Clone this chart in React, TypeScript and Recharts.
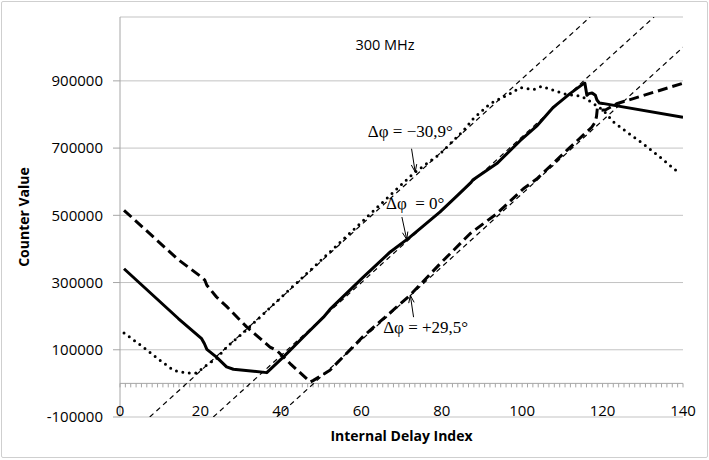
import React from 'react';
import { LineChart, Line, XAxis, YAxis, CartesianGrid, ReferenceLine, ReferenceDot } from 'recharts';

// ---- data ----
const zeroIndex = [1, 14.5, 20.3, 21.0, 21.6, 24, 26.5, 28.2, 36.5, 40.6, 45.6, 50.6, 52.2, 60.5, 67.2, 72.1, 79.6, 84, 87.3, 87.8, 93.7, 99.5, 103.6, 107.8, 111.9, 115.2, 115.6, 116.1, 116.6, 117.4, 118.2, 118.6, 119.2, 120, 140];
const zeroCount = [341000, 193000, 133000, 118000, 101000, 78000, 49000, 42000, 32000, 78000, 138000, 197000, 220000, 316000, 391000, 435000, 510000, 560000, 598000, 606000, 654000, 722000, 765000, 822000, 862000, 891000, 893000, 857000, 862000, 864000, 857000, 843000, 834000, 833000, 792000];

const plusIndex = [1, 14.5, 20.3, 21.1, 21.6, 24, 26.5, 31.5, 37.3, 39, 42.3, 47.3, 48.1, 52.2, 60.5, 72.1, 79.6, 87.1, 93.7, 100.3, 103.6, 111.1, 117.3, 118.2, 118.5, 118.7, 119.5, 120.8, 123.5, 140];
const plusCount = [515000, 368000, 316000, 307000, 292000, 257000, 229000, 168000, 108000, 98000, 59000, 4000, 9000, 39000, 140000, 262000, 356000, 446000, 505000, 579000, 608000, 693000, 762000, 778000, 795000, 818000, 812000, 814000, 832000, 893000];

const minusIndex = [1, 5.8, 9.9, 13.3, 16.6, 19.1, 21.5, 24, 26.5, 30.7, 40.6, 51.4, 66.3, 72.9, 79.6, 85.4, 87.8, 92, 97, 99.5, 102.8, 104.9, 107.8, 110.3, 112.9, 114.8, 116.5, 118.3, 120.2, 122.7, 126, 130.1, 134.3, 138.8];
const minusCount = [150000, 108000, 69000, 39000, 31000, 31000, 54000, 74000, 108000, 151000, 262000, 382000, 550000, 624000, 683000, 752000, 787000, 832000, 862000, 880000, 874000, 884000, 872000, 862000, 857000, 854000, 842000, 828000, 812000, 778000, 748000, 713000, 673000, 628000];

// thin dashed reference lines (start / end)
const refAIndex = [7.4, 116.9];
const refACount = [-100000, 1090000];
const refBIndex = [23.2, 132.8];
const refBCount = [-100000, 1090000];
const refCIndex = [39.0, 140];
const refCCount = [-100000, 1000000];

const xTicks = [0, 20, 40, 60, 80, 100, 120, 140];
const yTicks = [-100000, 100000, 300000, 500000, 700000, 900000];
const xDomain = [0, 140];
const yDomain = [-100000, 1090000];
const minorSteps = 105;

const title = '300 MHz';
const xLabel = 'Internal Delay Index';
const yLabel = 'Counter Value';
const noteMinus = 'Δφ = −30,9°';
const noteZero = 'Δφ\u00A0 = 0°';
const notePlus = 'Δφ = +29,5°';

const toPoints = (xs: number[], ys: number[]) => xs.map((x, i) => ({ x, y: ys[i] }));

const SANS = '"Open Sans", "Noto Sans", sans-serif';
const SERIF = '"Liberation Serif", "DejaVu Serif", serif';
const AXIS = '#a6a6a6';
const GRID = '#c3c3c3';

function ZeroAxis(props: any) {
  const { x1, y1, x2 } = props;
  const ticks = [];
  for (let k = 0; k <= minorSteps; k++) {
    const x = x1 + ((x2 - x1) * k) / minorSteps;
    ticks.push(<line key={k} x1={x} y1={y1} x2={x} y2={y1 + 4} stroke={AXIS} strokeWidth={1} />);
  }
  return (
    <g>
      <line x1={x1} y1={y1} x2={x2} y2={y1} stroke={AXIS} strokeWidth={1} />
      {ticks}
    </g>
  );
}

function Arrow(props: any) {
  const { x1, y1, x2, y2 } = props;
  const ang = Math.atan2(y2 - y1, x2 - x1);
  const len = 8;
  const spread = 0.35;
  const ax = x2 - len * Math.cos(ang - spread);
  const ay = y2 - len * Math.sin(ang - spread);
  const bx = x2 - len * Math.cos(ang + spread);
  const by = y2 - len * Math.sin(ang + spread);
  return (
    <g stroke="#000" strokeWidth={1} fill="none">
      <line x1={x1} y1={y1} x2={x2} y2={y2} />
      <polyline points={`${ax},${ay} ${x2},${y2} ${bx},${by}`} />
    </g>
  );
}

const textShape = (text: string, family: string, size: number) => (p: any) => (
  <text x={p.cx} y={p.cy} textAnchor="middle" dominantBaseline="central" fontFamily={family} fontSize={size} fill="#000">
    {text}
  </text>
);

const XTick = (props: any) => {
  const { x, y, payload } = props;
  return (
    <text x={x} y={y - 1} textAnchor="middle" fontFamily={SANS} fontSize={15} fill="#000">
      {payload.value}
    </text>
  );
};

export default function App() {
  const zeroData = toPoints(zeroIndex, zeroCount);
  const plusData = toPoints(plusIndex, plusCount);
  const minusData = toPoints(minusIndex, minusCount);
  const refA = toPoints(refAIndex, refACount);
  const refB = toPoints(refBIndex, refBCount);
  const refC = toPoints(refCIndex, refCCount);

  return (
    <div style={{ position: 'absolute', left: 0, top: 0, width: 709, height: 460, background: '#fff' }}>
      <LineChart width={709} height={460} margin={{ top: 17, right: 26, bottom: 0, left: 0 }}>
        <CartesianGrid vertical={false} stroke={GRID} strokeWidth={1} />
        <XAxis
          type="number"
          dataKey="x"
          domain={xDomain}
          ticks={xTicks}
          interval={0}
          allowDataOverflow
          height={43}
          axisLine={false}
          tickLine={false}
          tickSize={0}
          tickMargin={0}
          tick={<XTick />}
          label={{ value: xLabel, position: 'insideBottom', offset: 19, fontSize: 14, fontWeight: 700, fill: '#000', fontFamily: SANS }}
        />
        <YAxis
          type="number"
          dataKey="y"
          domain={yDomain}
          ticks={yTicks}
          interval={0}
          allowDataOverflow
          width={120}
          stroke={AXIS}
          tickSize={7}
          tickMargin={10}
          tick={{ fill: '#000', fontSize: 15, fontFamily: SANS }}
          label={{ value: yLabel, angle: -90, position: 'insideLeft', offset: 24, fontSize: 14, fontWeight: 700, fill: '#000', fontFamily: SANS, style: { textAnchor: 'middle' } }}
        />
        <ReferenceLine y={0} shape={ZeroAxis} ifOverflow="visible" />

        <Line data={refA} dataKey="y" type="linear" stroke="#000" strokeWidth={1.2} strokeDasharray="5 4" dot={false} activeDot={false} isAnimationActive={false} />
        <Line data={refB} dataKey="y" type="linear" stroke="#000" strokeWidth={1.2} strokeDasharray="5 4" dot={false} activeDot={false} isAnimationActive={false} />
        <Line data={refC} dataKey="y" type="linear" stroke="#000" strokeWidth={1.2} strokeDasharray="5 4" dot={false} activeDot={false} isAnimationActive={false} />

        <Line data={minusData} dataKey="y" type="linear" stroke="#000" strokeWidth={3} strokeDasharray="0 6.5" strokeLinecap="round" dot={false} activeDot={false} isAnimationActive={false} />
        <Line data={plusData} dataKey="y" type="linear" stroke="#000" strokeWidth={3} strokeDasharray="10 5" strokeLinejoin="round" dot={false} activeDot={false} isAnimationActive={false} />
        <Line data={zeroData} dataKey="y" type="linear" stroke="#000" strokeWidth={3} strokeLinejoin="round" dot={false} activeDot={false} isAnimationActive={false} />

        <ReferenceLine segment={[{ x: 72.5, y: 698000 }, { x: 73.4, y: 629000 }]} shape={Arrow} ifOverflow="visible" />
        <ReferenceLine segment={[{ x: 70.1, y: 495000 }, { x: 71.3, y: 428000 }]} shape={Arrow} ifOverflow="visible" />
        <ReferenceLine segment={[{ x: 73.0, y: 197000 }, { x: 72.2, y: 262000 }]} shape={Arrow} ifOverflow="visible" />

        <ReferenceDot x={65.9} y={1008000} r={0} ifOverflow="visible" shape={textShape(title, SANS, 14.5)} />
        <ReferenceDot x={72.2} y={749000} r={0} ifOverflow="visible" shape={textShape(noteMinus, SERIF, 17)} />
        <ReferenceDot x={73.4} y={536500} r={0} ifOverflow="visible" shape={textShape(noteZero, SERIF, 17)} />
        <ReferenceDot x={76.0} y={167700} r={0} ifOverflow="visible" shape={textShape(notePlus, SERIF, 17)} />
      </LineChart>
      <div
        style={{
          position: 'absolute',
          left: 1,
          top: 1,
          width: 707,
          height: 457,
          boxSizing: 'border-box',
          border: '1.5px solid #cfcfcf',
          borderRadius: 2,
          pointerEvents: 'none',
        }}
      />
    </div>
  );
}
